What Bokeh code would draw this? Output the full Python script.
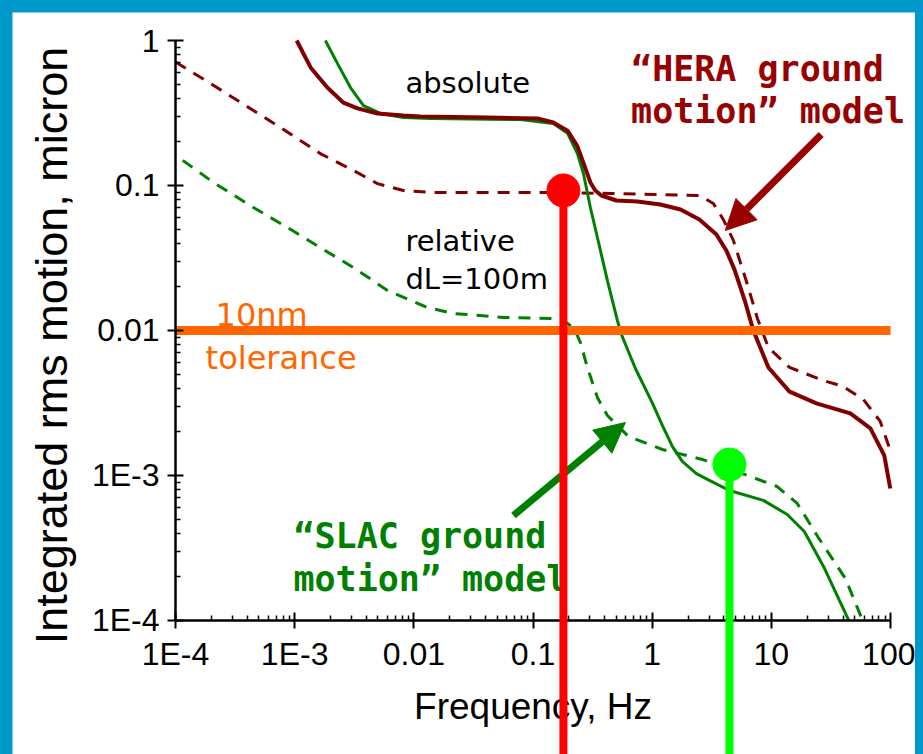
import math
from bokeh.plotting import figure
from bokeh.models import (FixedTicker, Label, Arrow, NormalHead, CustomJSTickFormatter, Spacer)
from bokeh.layouts import column, row
from bokeh.embed import file_html
from bokeh.resources import INLINE

# ---------------- data ----------------
x_ticks = [1e-4, 1e-3, 1e-2, 1e-1, 1, 10, 100]
x_tick_labels = ["1E-4", "1E-3", "0.01", "0.1", "1", "10", "100"]
y_ticks = [1e-4, 1e-3, 1e-2, 1e-1, 1]
y_tick_labels = ["1E-4", "1E-3", "0.01", "0.1", "1"]

hera_abs_f = [1.04e-3, 1.36e-3, 1.88e-3, 2.56e-3, 3.37e-3, 4.95e-3, 8.18e-3, 0.0113, 0.0414,
              0.109, 0.148, 0.195, 0.236, 0.270, 0.303, 0.333, 0.375, 0.501, 0.751, 1.17, 1.73, 2.49,
              3.46, 4.19, 4.90, 6.05, 7.06, 9.44, 14.2, 23.9, 46.0, 67.8, 88.7, 99.5]
hera_abs_v = [1.0, 0.652, 0.474, 0.373, 0.340, 0.314, 0.304, 0.299, 0.294,
              0.290, 0.272, 0.239, 0.186, 0.137, 0.105, 0.0924, 0.0853, 0.0788, 0.0776, 0.0740, 0.0683, 0.0583,
              0.0459, 0.0356, 0.0264, 0.0156, 0.0100, 5.56e-3, 3.79e-3, 3.14e-3, 2.68e-3, 2.11e-3, 1.37e-3, 8.13e-4]

hera_rel_f = [1.0e-4, 1.97e-4, 4.51e-4, 7.60e-4, 1.64e-3, 3.11e-3, 4.95e-3, 8.18e-3, 0.0138, 0.148,
              0.455, 2.49, 3.26, 3.95, 4.80, 6.30, 7.64, 9.44, 14.2, 27.3, 40.2, 59.2, 82.0, 99.5]
hera_rel_v = [0.71, 0.505, 0.329, 0.251, 0.166, 0.127, 0.103, 0.0924, 0.0895, 0.0895,
              0.0881, 0.0853, 0.0752, 0.0583, 0.0418, 0.0207, 0.0121, 7.63e-3, 5.56e-3, 4.52e-3,
              4.11e-3, 3.34e-3, 2.36e-3, 1.49e-3]

slac_abs_f = [1.81e-3, 2.29e-3, 2.94e-3, 3.78e-3, 5.25e-3, 8.18e-3, 0.0138, 0.0783, 0.148,
              0.195, 0.236, 0.265, 0.303, 0.347, 0.421, 0.511, 0.552, 0.723, 1.00, 1.22, 1.48, 1.79,
              2.35, 3.02, 4.45, 8.57, 13.6, 18.9, 27.9, 44.6]
slac_abs_v = [1.0, 0.693, 0.474, 0.356, 0.314, 0.294, 0.290, 0.285, 0.268,
              0.229, 0.166, 0.121, 0.0705, 0.0438, 0.0221, 0.0117, 9.38e-3, 5.47e-3, 3.18e-3, 2.21e-3,
              1.58e-3, 1.25e-3, 1.03e-3, 9.24e-4, 7.88e-4, 6.73e-4, 5.38e-4, 4.11e-4, 2.29e-4, 1.0e-4]

slac_rel_f = [1.15e-4, 2.08e-4, 4.51e-4, 8.71e-4, 1.64e-3, 3.11e-3, 6.01e-3, 0.0130, 0.0215, 0.0565,
              0.148, 0.195, 0.222, 0.250, 0.286, 0.347, 0.421, 0.631, 1.22, 2.64, 6.67, 11.2,
              16.5, 24.8, 41.8, 58.3]
slac_rel_v = [0.149, 0.105, 0.0705, 0.0513, 0.0373, 0.0272, 0.0189, 0.0144, 0.0131, 0.0123,
              0.0121, 0.0112, 0.0103, 8.26e-3, 5.56e-3, 3.45e-3, 2.59e-3, 1.86e-3, 1.51e-3, 1.29e-3,
              9.84e-4, 8.39e-4, 6.41e-4, 3.73e-4, 1.95e-4, 1.0e-4]

tolerance_f = [1e-4, 100]
tolerance_v = [0.01, 0.01]

marker_f = [0.18, 4.45]
marker_v = [0.0924, 1.19e-3]
marker_colors = ["#FF0000", "#00FF00"]

# ---------------- figure ----------------
# the frame spans the whole white card; the axes sit at fixed data locations
p = figure(width=903, height=742, x_axis_type="log", y_axis_type="log",
           x_range=(4.29e-6, 162), y_range=(1.19e-5, 1.56),
           output_backend="svg", toolbar_location=None,
           min_border_left=0, min_border_right=0, min_border_top=0, min_border_bottom=0,
           background_fill_color="white", border_fill_color="white")
p.outline_line_color = None
p.xgrid.visible = False
p.ygrid.visible = False

minor = [m * 10.0 ** k for k in range(-4, 2) for m in range(2, 10)]
p.xaxis.ticker = FixedTicker(ticks=x_ticks, minor_ticks=minor)
p.yaxis.ticker = FixedTicker(ticks=y_ticks, minor_ticks=[v for v in minor if v < 1])
fmt_code = """
let best = 0; let bd = 1e9;
for (let i = 0; i < tvals.length; i++) {
  const d = Math.abs(Math.log10(tick) - Math.log10(tvals[i]));
  if (d < bd) { bd = d; best = i; }
}
return tlabels[best];
"""
p.xaxis.formatter = CustomJSTickFormatter(args=dict(tvals=x_ticks, tlabels=x_tick_labels), code=fmt_code)
p.yaxis.formatter = CustomJSTickFormatter(args=dict(tvals=y_ticks, tlabels=y_tick_labels), code=fmt_code)
p.xaxis.fixed_location = 1e-4
p.yaxis.fixed_location = 1e-4
p.xaxis.bounds = (1e-4, 100)
p.yaxis.bounds = (1e-4, 1)

for ax in (p.xaxis[0], p.yaxis[0]):
    ax.axis_line_width = 2.5
    ax.axis_line_color = "black"
    ax.major_tick_line_width = 2
    ax.minor_tick_line_width = 1.5
    ax.major_tick_line_color = "black"
    ax.minor_tick_line_color = "black"
    ax.major_tick_in = 8
    ax.major_tick_out = 8
    ax.minor_tick_in = 5
    ax.minor_tick_out = 0
    ax.major_label_text_font = "Liberation Sans"
    ax.major_label_text_font_size = "32px"
    ax.major_label_text_color = "black"
    ax.axis_label_text_font = "Liberation Sans"
    ax.axis_label_text_font_style = "normal"
    ax.axis_label_text_color = "black"

p.xaxis.axis_label = "Frequency, Hz"
p.xaxis.axis_label_text_font_size = "37px"
p.xaxis.major_label_standoff = 8
p.yaxis.major_label_standoff = 8
p.xaxis.axis_label_standoff = 10

# y-axis title, placed beside the axis
p.add_layout(Label(x=9.11e-6, y=7.88e-3, text="Integrated rms motion, micron", angle=math.pi / 2,
                   text_align="center", text_baseline="alphabetic", text_font="Liberation Sans",
                   text_font_size="45px", text_color="black"))

DRED = "#800000"
GREEN = "#008000"

p.line(hera_rel_f, hera_rel_v, line_color=DRED, line_width=3, line_dash="12 9")
p.line(slac_rel_f, slac_rel_v, line_color=GREEN, line_width=3, line_dash="12 9")
p.line(slac_abs_f, slac_abs_v, line_color=GREEN, line_width=3)
p.line(hera_abs_f, hera_abs_v, line_color=DRED, line_width=4)
p.line(tolerance_f, tolerance_v, line_color="#FF6600", line_width=9)

p.scatter(marker_f, marker_v, size=33, fill_color=marker_colors, line_color=marker_colors)

# annotations
def lab(x, y, text, color, font, size, style="normal"):
    p.add_layout(Label(x=x, y=y, text=text, text_color=color, text_font=font,
                       text_font_size=size, text_font_style=style, text_baseline="alphabetic"))

lab(8.5e-3, 0.513, "absolute", "black", "DejaVu Sans", "29px")
lab(8.5e-3, 0.0417, "relative", "black", "DejaVu Sans", "29px")
lab(8.5e-3, 0.0228, "dL=100m", "black", "DejaVu Sans", "29px")
lab(2.17e-4, 0.0128, "10nm", "#FF6600", "DejaVu Sans", "32px")
lab(1.79e-4, 6.5e-3, "tolerance", "#FF6600", "DejaVu Sans", "32px")
lab(0.665, 0.64, "\u201cHERA ground", "#990000", "DejaVu Sans Mono", "35px", "bold")
lab(0.665, 0.328, "motion\u201d model", "#990000", "DejaVu Sans Mono", "35px", "bold")
lab(9.77e-4, 3.85e-4, "\u201cSLAC ground", GREEN, "DejaVu Sans Mono", "35px", "bold")
lab(9.77e-4, 1.94e-4, "motion\u201d model", GREEN, "DejaVu Sans Mono", "35px", "bold")

p.add_layout(Arrow(end=NormalHead(size=30, fill_color="#990000", line_color="#990000"),
                   x_start=26.2, y_start=0.225, x_end=4.11, y_end=0.049,
                   line_color="#990000", line_width=7))
p.add_layout(Arrow(end=NormalHead(size=30, fill_color=GREEN, line_color=GREEN),
                   x_start=0.0686, y_start=5.30e-4, x_end=0.596, y_end=2.32e-3,
                   line_color=GREEN, line_width=7))

for f, v, c in zip(marker_f, marker_v, marker_colors):
    p.add_layout(Arrow(end=None, x_start=f, y_start=v, x_end=f, y_end=1e-7,
                       line_color=c, line_width=8))

layout = column(Spacer(height=12),
                row(Spacer(width=12), p, Spacer(width=8)),
                styles={"background-color": "#0099CC"})

open("out.html", "w").write(file_html(layout, INLINE))
